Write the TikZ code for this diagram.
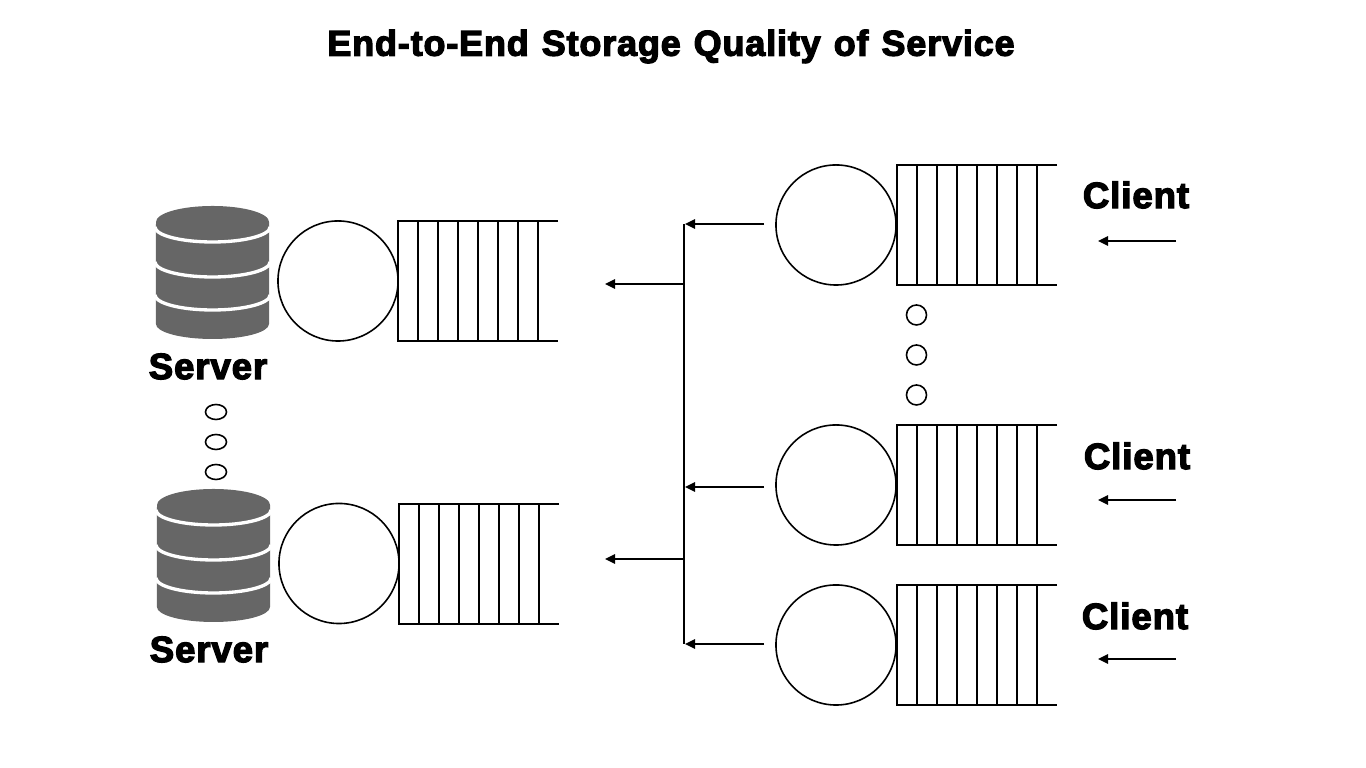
\documentclass[tikz,border=0pt]{standalone}
\usepackage{fontspec}
\usepackage{xcolor}
\usetikzlibrary{arrows.meta, shapes.geometric}
\newfontfamily\headfont[BoldFeatures={FakeBold=3.5},LetterSpace=2.5,WordSpace=1.2]{Liberation Sans}
\definecolor{dbgray}{HTML}{666666}
\begin{document}
\begin{tikzpicture}[
    x=.01cm, y=-.01cm,
    line width=.45pt,
    svc/.style={draw, circle, minimum size=1.2cm, inner sep=0pt},
    rounddot/.style={draw, circle, minimum size=.2cm, inner sep=0pt},
    ovaldot/.style={draw, ellipse, minimum width=.21cm, minimum height=.15cm, inner sep=0pt},
    lbl/.style={font=\headfont\bfseries\fontsize{10.4}{12}\selectfont, inner sep=0pt},
    arr/.style={-{Triangle[length=1mm,width=.95mm]}},
    pics/queue/.style={code={
      \draw (160,0) -- (0,0) -- (0,120) -- (160,120);
      \foreach \x in {20,40,...,140} \draw (\x,0) -- (\x,120);
    }},
    pics/dbicon/.style={code={
      \fill[dbgray] (0,0) arc[start angle=180, end angle=0, x radius=.565cm, y radius=.16cm]
        -- (113,102) arc[start angle=0, end angle=-180, x radius=.565cm, y radius=.15cm] -- cycle;
      \foreach \y in {5,40,73}
        \draw[white, line width=.95pt] (-1,\y) arc[start angle=180, end angle=360, x radius=.575cm, y radius=.15cm];
    }}
  ]
    \useasboundingbox (0,0) rectangle (1366,768);
    \node[lbl, font=\headfont\bfseries\fontsize{10.2}{12}\selectfont] (title) at (671,46.5) {End-to-End Storage Quality of Service};

    % servers
    \pic at (156,222) {dbicon};
    \pic at (157,505) {dbicon};
    \node[lbl] (srv1) at (208,366.5) {Server};
    \node[lbl] (srv2) at (209,649.5) {Server};
    \node[svc] (scirc1) at (338,281) {};
    \node[svc] (scirc2) at (339,563.5) {};
    \pic at (398,221) {queue};
    \pic at (399,504) {queue};
    \node[ovaldot] (sdot1) at (216,412) {};
    \node[ovaldot] (sdot2) at (216,442) {};
    \node[ovaldot] (sdot3) at (216,472) {};

    % clients
    \node[svc] (ccirc1) at (836,225) {};
    \node[svc] (ccirc2) at (836,485) {};
    \node[svc] (ccirc3) at (836,645) {};
    \pic at (897,165) {queue};
    \pic at (897,425) {queue};
    \pic at (897,585) {queue};
    \node[rounddot] (cdot1) at (916.5,315) {};
    \node[rounddot] (cdot2) at (916.5,355) {};
    \node[rounddot] (cdot3) at (916.5,395) {};
    \node[lbl] (cli1) at (1136,195) {Client};
    \node[lbl] (cli2) at (1137,456) {Client};
    \node[lbl] (cli3) at (1135,616) {Client};

    % arrow ends
    \coordinate (in1a) at (1176,241);
    \coordinate (in1b) at (1098,241);
    \coordinate (in2a) at (1176,500);
    \coordinate (in2b) at (1098,500);
    \coordinate (in3a) at (1176,659);
    \coordinate (in3b) at (1098,659);
    \coordinate (c1a) at (764,224);
    \coordinate (c1b) at (685,224);
    \coordinate (c2a) at (764,487);
    \coordinate (c2b) at (685,487);
    \coordinate (c3a) at (764,644);
    \coordinate (c3b) at (685,644);
    \coordinate (bus1) at (684,224);
    \coordinate (bus2) at (684,644);
    \coordinate (o1a) at (684,284);
    \coordinate (o1b) at (605,284);
    \coordinate (o2a) at (684,559);
    \coordinate (o2b) at (605,559);

    \draw (bus1) -- (bus2);
    \draw[arr] (in1a) -- (in1b);
    \draw[arr] (in2a) -- (in2b);
    \draw[arr] (in3a) -- (in3b);
    \draw[arr] (c1a) -- (c1b);
    \draw[arr] (c2a) -- (c2b);
    \draw[arr] (c3a) -- (c3b);
    \draw[arr] (o1a) -- (o1b);
    \draw[arr] (o2a) -- (o2b);
  \end{tikzpicture}
\end{document}
